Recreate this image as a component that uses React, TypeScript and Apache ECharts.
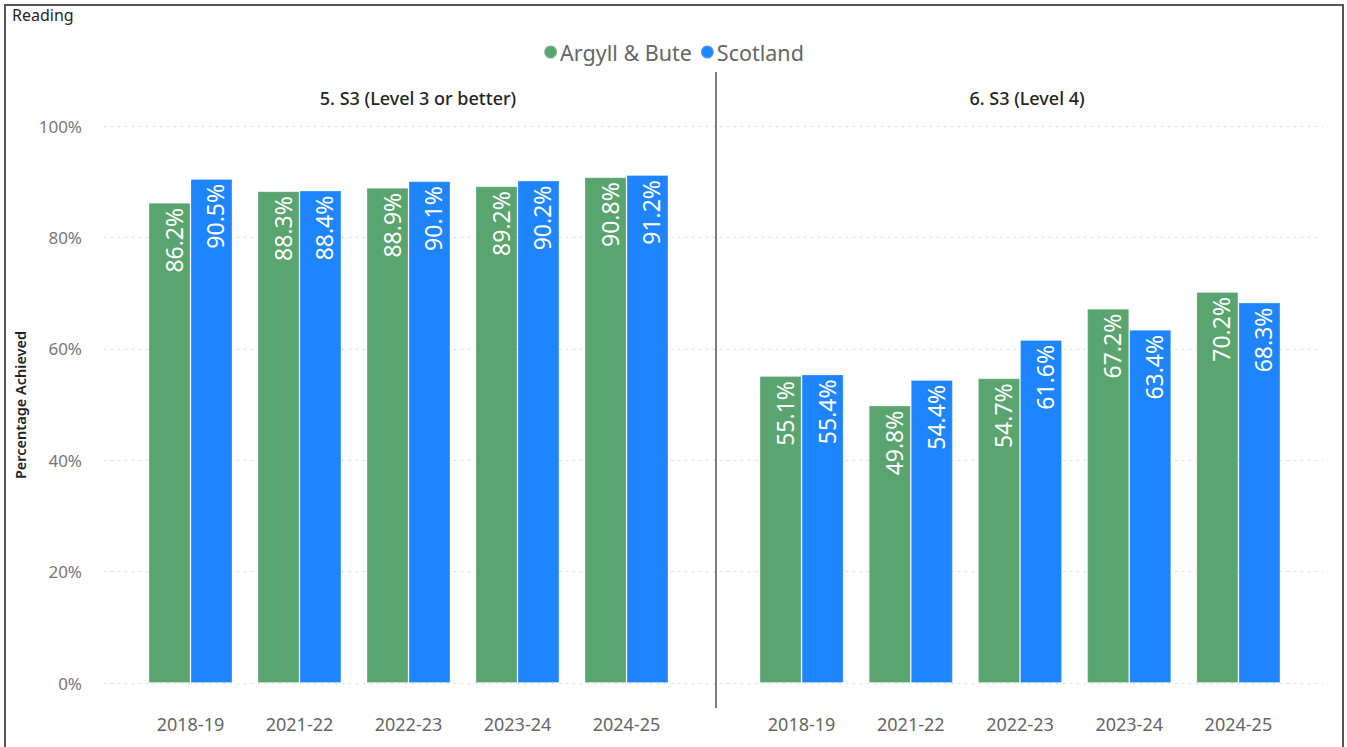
import React, { useEffect, useRef } from "react";
import * as echarts from "echarts";

const categories = ["2018-19", "2021-22", "2022-23", "2023-24", "2024-25"];
const seriesNames = ["Argyll & Bute", "Scotland"];
const panelTitles = ["5. S3 (Level 3 or better)", "6. S3 (Level 4)"];
const level3Argyll = [86.2, 88.3, 88.9, 89.2, 90.8];
const level3Scotland = [90.5, 88.4, 90.1, 90.2, 91.2];
const level4Argyll = [55.1, 49.8, 54.7, 67.2, 70.2];
const level4Scotland = [55.4, 54.4, 61.6, 63.4, 68.3];
const yTicks = [0, 20, 40, 60, 80, 100];

const GREEN = "#5AA470";
const BLUE = "#1F85FF";
const FONT = "'Noto Sans', 'DejaVu Sans', sans-serif";

export default function App() {
  const ref = useRef<HTMLDivElement>(null);
  useEffect(() => {
    document.body.style.margin = "0";
    const chart = echarts.init(ref.current!, undefined, { renderer: "svg" });
    const top = 126;
    const bottom = 747 - 683;
    const yMax = yTicks[yTicks.length - 1];
    const hiddenY = (gridIndex: number) => ({
      type: "value",
      gridIndex,
      min: 0,
      max: yMax,
      interval: 20,
      show: false,
      splitLine: { show: false },
    });
    const catAxis = (gridIndex: number) => ({
      type: "category",
      gridIndex,
      data: categories,
      axisLine: { show: false },
      axisTick: { show: false },
      axisLabel: { color: "#666", fontSize: 18, fontFamily: FONT, margin: 32 },
    });
    const label = {
      show: true,
      position: "insideTop",
      rotate: 90,
      align: "right",
      verticalAlign: "middle",
      offset: [0, 4],
      color: "#fff",
      fontSize: 23,
      fontFamily: FONT,
      formatter: (p: any) => `${p.value.toFixed(1)}%`,
    };
    const bar = (name: string, data: number[], color: string, idx: number) => ({
      type: "bar",
      name,
      data,
      xAxisIndex: idx,
      yAxisIndex: idx,
      barGap: "0%",
      barCategoryGap: "23%",
      itemStyle: { color, borderColor: "rgba(255,255,255,0.25)", borderWidth: 1 },
      label,
    });
    const titleStyle = { fontSize: 18, fontWeight: 500, color: "#252423", fontFamily: FONT };
    chart.setOption({
      animation: false,
      backgroundColor: "#fff",
      title: [
        { text: panelTitles[0], left: 413, top: 84, textAlign: "center", textStyle: titleStyle },
        { text: panelTitles[1], left: 1022, top: 84, textAlign: "center", textStyle: titleStyle },
      ],
      legend: {
        data: seriesNames,
        top: 36,
        left: "center",
        icon: "circle",
        itemWidth: 13,
        itemHeight: 13,
        itemGap: 8,
        textStyle: { color: "#666", fontSize: 21.5, fontFamily: FONT, padding: [0, 0, 0, -2] },
      },
      grid: [
        { left: 104, right: 24, top, bottom },
        { left: 136, width: 545, top, bottom },
        { left: 747, width: 546, top, bottom },
      ],
      xAxis: [
        { type: "value", gridIndex: 0, show: false, splitLine: { show: false } },
        catAxis(1),
        catAxis(2),
      ],
      yAxis: [
        {
          type: "value",
          gridIndex: 0,
          min: 0,
          max: yMax,
          interval: 20,
          axisLine: { show: false },
          axisTick: { show: false },
          axisLabel: {
            formatter: "{value}%",
            color: "#777",
            fontSize: 17,
            fontFamily: FONT,
            margin: 22,
          },
          splitLine: { lineStyle: { color: "#dcdcdc", type: [2, 5], width: 1 } },
        },
        hiddenY(1),
        hiddenY(2),
      ],
      series: [
        bar(seriesNames[0], level3Argyll, GREEN, 1),
        bar(seriesNames[1], level3Scotland, BLUE, 1),
        bar(seriesNames[0], level4Argyll, GREEN, 2),
        bar(seriesNames[1], level4Scotland, BLUE, 2),
      ],
      graphic: [
        {
          type: "rect",
          shape: { x: 5, y: 5, width: 1338, height: 750 },
          style: { fill: "none", stroke: "#555", lineWidth: 2 },
          silent: true,
        },
        {
          type: "line",
          shape: { x1: 716, y1: 72, x2: 716, y2: 708 },
          style: { stroke: "#555", lineWidth: 1.5 },
          silent: true,
        },
        {
          type: "text",
          x: 12,
          y: 7,
          style: { text: "Reading", fontSize: 16, fill: "#252423", fontFamily: FONT },
        },
        {
          type: "text",
          x: 20,
          y: 405,
          rotation: Math.PI / 2,
          style: {
            text: "Percentage Achieved",
            fontSize: 14.5,
            fontWeight: 600,
            fill: "#252423",
            fontFamily: FONT,
            align: "center",
            verticalAlign: "middle",
          },
        },
      ],
    });
    return () => chart.dispose();
  }, []);
  return <div ref={ref} style={{ width: 1347, height: 747 }} />;
}
